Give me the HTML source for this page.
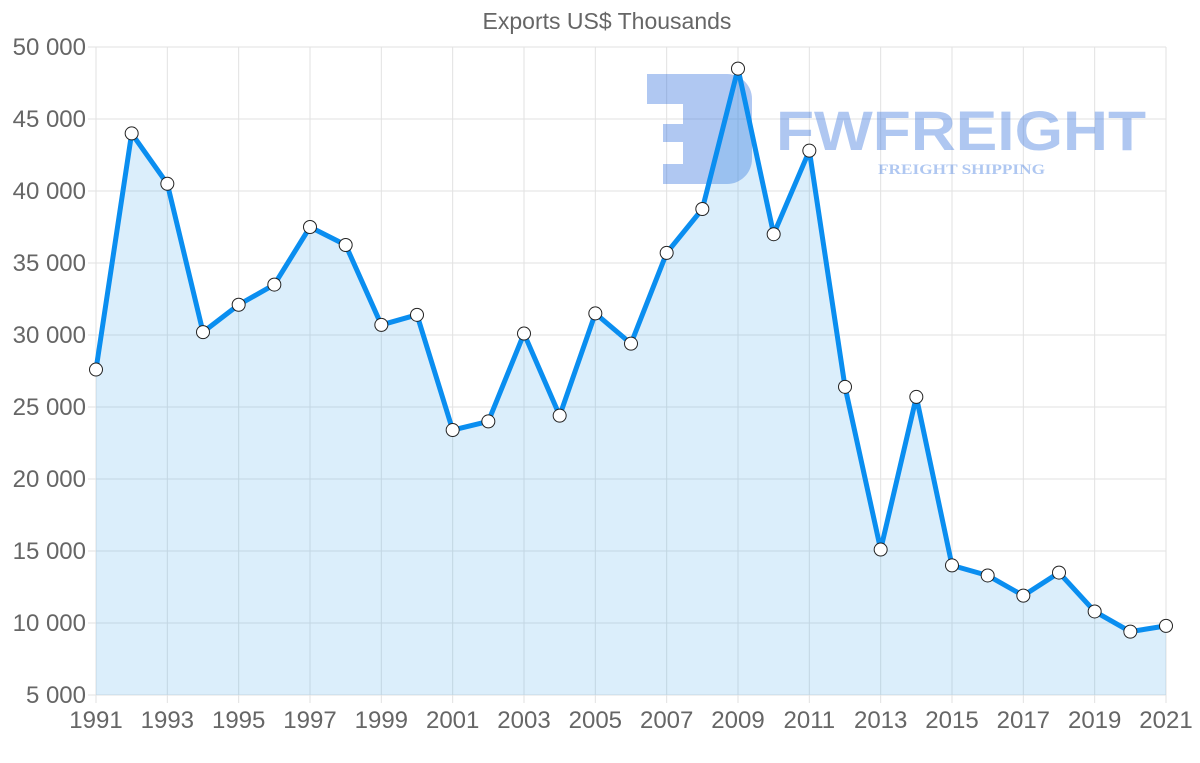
<!DOCTYPE html>
<html><head><meta charset="utf-8"><style>
html,body{margin:0;padding:0;background:#fff;}
svg{display:block;font-family:"Liberation Sans",sans-serif;}
</style></head><body>
<svg id="chart" width="1200" height="763" viewBox="0 0 1200 763">
<text x="607" y="29" text-anchor="middle" font-size="23" fill="#666">Exports US$ Thousands</text>
<g id="grid"></g>
<g id="watermark" opacity="0.38">
<path d="M647 74 h80 a25 25 0 0 1 25 25 v60 a25 25 0 0 1 -25 25 h-64 v-20 h20 v-22 h-20 v-18 h20 v-20 h-36 z" fill="#2f6fdc"/>
<text x="776" y="150" font-size="56" font-weight="bold" fill="#2f6fdc" textLength="370" lengthAdjust="spacingAndGlyphs">FWFREIGHT</text>
<text x="878" y="174" font-size="15" font-weight="bold" font-family="Liberation Serif,serif" fill="#2f6fdc" textLength="167" lengthAdjust="spacingAndGlyphs">FREIGHT SHIPPING</text>
</g>
<g id="series"></g>
<g id="axes"></g>
</svg>
<script>
const years=[1991,1992,1993,1994,1995,1996,1997,1998,1999,2000,2001,2002,2003,2004,2005,2006,2007,2008,2009,2010,2011,2012,2013,2014,2015,2016,2017,2018,2019,2020,2021];
const exportsValues=[27600,44000,40500,30200,32100,33500,37500,36250,30700,31400,23400,24000,30100,24400,31500,29400,35700,38750,48500,37000,42800,26400,15100,25700,14000,13300,11900,13500,10800,9400,9800];
const yTicks=[5000,10000,15000,20000,25000,30000,35000,40000,45000,50000];
const yTickLabels=["5 000","10 000","15 000","20 000","25 000","30 000","35 000","40 000","45 000","50 000"];
const NS="http://www.w3.org/2000/svg";
const L=96,R=1166,T=47,B=695,yMin=5000,yMax=50000;
const x=i=>L+(R-L)*i/(years.length-1);
const y=v=>B-(v-yMin)/(yMax-yMin)*(B-T);
function mk(tag,attrs,parent){const e=document.createElementNS(NS,tag);for(const k in attrs)e.setAttribute(k,attrs[k]);parent.appendChild(e);return e;}
const grid=document.getElementById('grid'),axes=document.getElementById('axes'),series=document.getElementById('series');
yTicks.forEach((t,i)=>{
 const ln=mk('line',{x1:L-8,x2:R,y1:y(t),y2:y(t),stroke:'#e2e2e2','stroke-width':1},grid);
 
 
 const tx=mk('text',{x:86,y:y(t)+8,'text-anchor':'end','font-size':24,fill:'#666'},axes);
 tx.textContent=yTickLabels[i];
 
 
});
years.forEach((yr,i)=>{
 if(i%2!==0)return;
 const ln=mk('line',{x1:x(i),x2:x(i),y1:T,y2:B+8,stroke:'#e2e2e2','stroke-width':1},grid);
 
 
 const tx=mk('text',{x:x(i),y:728,'text-anchor':'middle','font-size':24,fill:'#666'},axes);
 tx.textContent=yr;
 
 
});
let d='';exportsValues.forEach((v,i)=>{d+=(i?'L':'M')+x(i)+' '+y(v)+' ';});
const area=mk('path',{d:d+'L'+x(years.length-1)+' '+B+' L'+x(0)+' '+B+' Z',fill:'rgba(54,162,235,0.18)'},series);


const line=mk('path',{d:d,fill:'none',stroke:'#0a8ef0','stroke-width':5,'stroke-linejoin':'round'},series);


exportsValues.forEach((v,i)=>{
 const c=mk('circle',{cx:x(i),cy:y(v),r:6.5,fill:'#fff',stroke:'#222','stroke-width':1},series);
 
 
});
</script>
</body></html>
